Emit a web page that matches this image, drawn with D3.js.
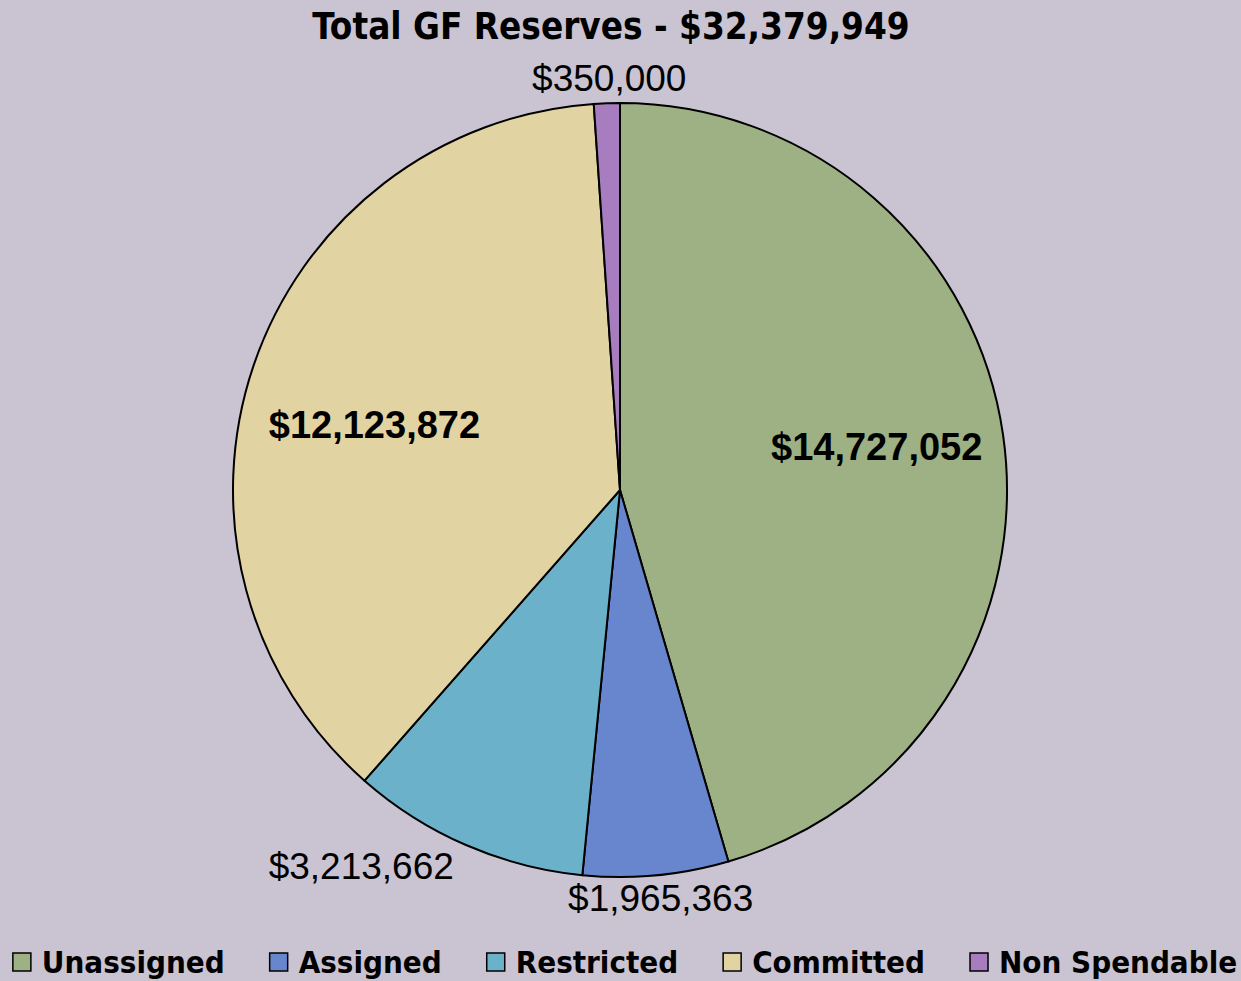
<!DOCTYPE html>
<html>
<head>
<meta charset="utf-8">
<script src="https://cdn.jsdelivr.net/npm/d3@7"></script>
<style>
  html, body { margin: 0; padding: 0; background: #c9c3d2; }
  svg { display: block; }
  .cond { font-family: "DejaVu Sans Condensed", "DejaVu Sans", sans-serif; font-weight: bold; }
  .lbl { font-family: "Liberation Sans", Arial, sans-serif; }
</style>
</head>
<body>
<svg id="chart"></svg>
<script>
const categories = ['Unassigned', 'Assigned', 'Restricted', 'Committed', 'Non Spendable'];
const values = [14727052, 1965363, 3213662, 12123872, 350000];
const colors = ['#9db184', '#6786ce', '#6bb1ca', '#e2d3a3', '#a77dc0'];
const titleText = 'Total GF Reserves - $32,379,949';

const width = 1241, height = 981;
const cx = 620, cy = 490, radius = 387;

const svg = d3.select('#chart')
    .attr('width', width)
    .attr('height', height);

const fmt = d => '$' + d3.format(',')(d);

// Title
svg.append('text')
    .attr('class', 'cond')
    .attr('x', 611)
    .attr('y', 39)
    .attr('text-anchor', 'middle')
    .style('font-size', '36.5px')
    .attr('fill', '#000')
    .text(titleText);

const pie = d3.pie().sort(null).value(d => d.value);
const arcs = pie(categories.map((c, i) => ({ name: c, value: values[i], color: colors[i] })));

const arc = d3.arc().innerRadius(0).outerRadius(radius);

const g = svg.append('g').attr('transform', `translate(${cx},${cy})`);

g.selectAll('path')
    .data(arcs)
    .enter()
    .append('path')
    .attr('d', arc)
    .attr('fill', d => d.data.color)
    .attr('stroke', '#000')
    .attr('stroke-width', 2)
    .attr('stroke-linejoin', 'round');

// Labels: big slices inside (bold), small ones just outside the rim
const inArc = d3.arc().innerRadius(radius * 0.67).outerRadius(radius * 0.67);
const outR = radius + 18;

g.selectAll('text.lbl')
    .data(arcs)
    .enter()
    .append('text')
    .attr('class', 'lbl')
    .attr('fill', '#000')
    .attr('dominant-baseline', 'central')
    .each(function(d) {
        const share = (d.endAngle - d.startAngle) / (2 * Math.PI);
        const mid = (d.startAngle + d.endAngle) / 2;
        const t = d3.select(this);
        if (share > 0.2) {
            const [x, y] = inArc.centroid(d);
            // flatten inside labels toward a common line, like the original
            t.attr('x', x).attr('y', y * 0.47 - 26)
                .attr('text-anchor', 'middle')
                .style('font-size', '38px')
                .style('font-weight', 'bold');
        } else {
            const sx = Math.sin(mid), cy2 = -Math.cos(mid);
            const x = sx * outR, y = cy2 * outR;
            let anchor = 'middle';
            if (sx < -0.3) anchor = 'end';
            else if (sx > 0.3) anchor = 'start';
            t.attr('x', x + (anchor === 'middle' ? 3 : -5))
                .attr('y', y + (cy2 > 0 ? 5 : -7))
                .attr('text-anchor', anchor)
                .style('font-size', '37px');
        }
    })
    .text(d => fmt(d.data.value));

// Legend
const legend = svg.append('g');
const items = legend.selectAll('g')
    .data(categories)
    .enter()
    .append('g');

items.append('rect')
    .attr('width', 18)
    .attr('height', 18)
    .attr('y', 953)
    .attr('fill', (d, i) => colors[i])
    .attr('stroke', '#000')
    .attr('stroke-width', 1.5);

items.append('text')
    .attr('class', 'cond')
    .attr('x', 29)
    .attr('y', 973)
    .style('font-size', '31px')
    .attr('fill', '#000')
    .text(d => d);

// position legend items after measuring text
let xPos = 0;
const gap = 45;
const offsets = [];
items.each(function() {
    const w = d3.select(this).select('text').node().getComputedTextLength() + 29;
    offsets.push(xPos);
    xPos += w + gap;
});
const total = xPos - gap;
const startX = 625 - total / 2;
items.attr('transform', (d, i) => `translate(${startX + offsets[i]},0)`);
</script>
</body>
</html>
